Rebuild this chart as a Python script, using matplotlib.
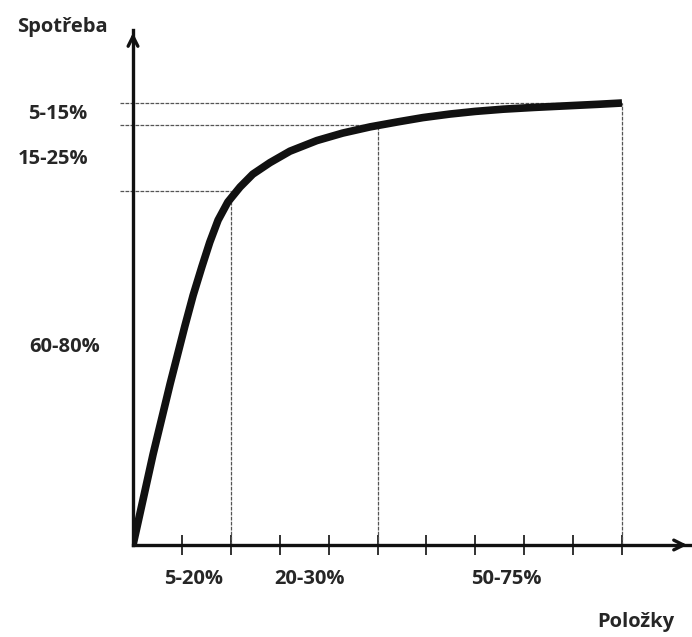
import matplotlib
matplotlib.use("Agg")
import matplotlib.pyplot as plt
import numpy as np

# Data (cumulative % items vs cumulative % consumption)
items_pct = [0, 4.1, 7.6, 10.6, 12.3, 14.1, 15.7, 17.4, 19.4, 21.9, 24.5, 28.0, 32.1,
             37.6, 42.9, 48.5, 54.0, 59.3, 64.8, 70.0, 75.7, 82.0, 89.4, 95.0, 100]
consumption_pct = [0, 20.5, 36.5, 49.5, 56.5, 63.0, 68.5, 73.5, 77.6, 81.0, 83.9, 86.5, 89.1,
                   91.5, 93.2, 94.6, 95.7, 96.7, 97.5, 98.1, 98.6, 99.0, 99.4, 99.7, 100]

# Class boundaries
bound_x = [20, 50, 100]
bound_y = [80, 95, 100]
x_ticks = [10, 20, 30, 40, 50, 60, 70, 80, 90, 100]

y_labels = ["5-15%", "15-25%", "60-80%"]
y_label_pos = [97.5, 87.3, 44.8]
y_label_x = [-15.3, -16.3, -14.0]
x_labels = ["5-20%", "20-30%", "50-75%"]
x_label_pos = [12.3, 36.2, 76.3]

W, H = 692, 637
fig = plt.figure(figsize=(W / 100, H / 100), dpi=100)
ox, oy = 133, 545
xr, yr = 690, 30
ax = fig.add_axes([ox / W, 1 - oy / H, (xr - ox) / W, (oy - yr) / H])
xmax = (xr - ox) / 4.89
ymax = (oy - yr) / 4.42
ax.set_xlim(0, xmax)
ax.set_ylim(0, ymax)

for s in ["top", "right"]:
    ax.spines[s].set_visible(False)
for s in ["left", "bottom"]:
    ax.spines[s].set_linewidth(2.4)
    ax.spines[s].set_color("#111111")

ax.set_xticks(x_ticks)
ax.set_xticklabels([])
ax.tick_params(axis="x", direction="inout", length=14, width=1.3, color="#222222")
ax.set_yticks([])

# arrows
ax.annotate("", xy=(xmax, 0), xytext=(xmax - 3, 0),
            arrowprops=dict(arrowstyle="->,head_length=0.7,head_width=0.35",
                            lw=2.4, color="#111111"), annotation_clip=False)
ax.annotate("", xy=(0, ymax), xytext=(0, ymax - 3),
            arrowprops=dict(arrowstyle="->,head_length=0.7,head_width=0.35",
                            lw=2.4, color="#111111"), annotation_clip=False)

# reference lines
ref_style = dict(color="#555555", lw=0.9, linestyle=(0, (3, 1)))
for bx, by in zip(bound_x, bound_y):
    ax.plot([-2.7, bx], [by, by], clip_on=False, **ref_style)
    ax.plot([bx, bx], [0, by], clip_on=False, **ref_style)

# curve
ax.plot(items_pct, consumption_pct, color="#111111", lw=5.5, solid_capstyle="butt", solid_joinstyle="round")

font = dict(family="Open Sans", weight="bold", size=14.5, color="#262626")
fig.text(62 / W, 1 - 27 / H, "Spotřeba", ha="center", va="center", **font)
for lab, yp, xp in zip(y_labels, y_label_pos, y_label_x):
    ax.text(xp, yp, lab, ha="center", va="center", clip_on=False, **font)
for lab, xp in zip(x_labels, x_label_pos):
    ax.text(xp, -7.7, lab, ha="center", va="center", clip_on=False, **font)
fig.text(636 / W, 1 - 622 / H, "Položky", ha="center", va="center", **font)

fig.savefig("out.png", dpi=100)
